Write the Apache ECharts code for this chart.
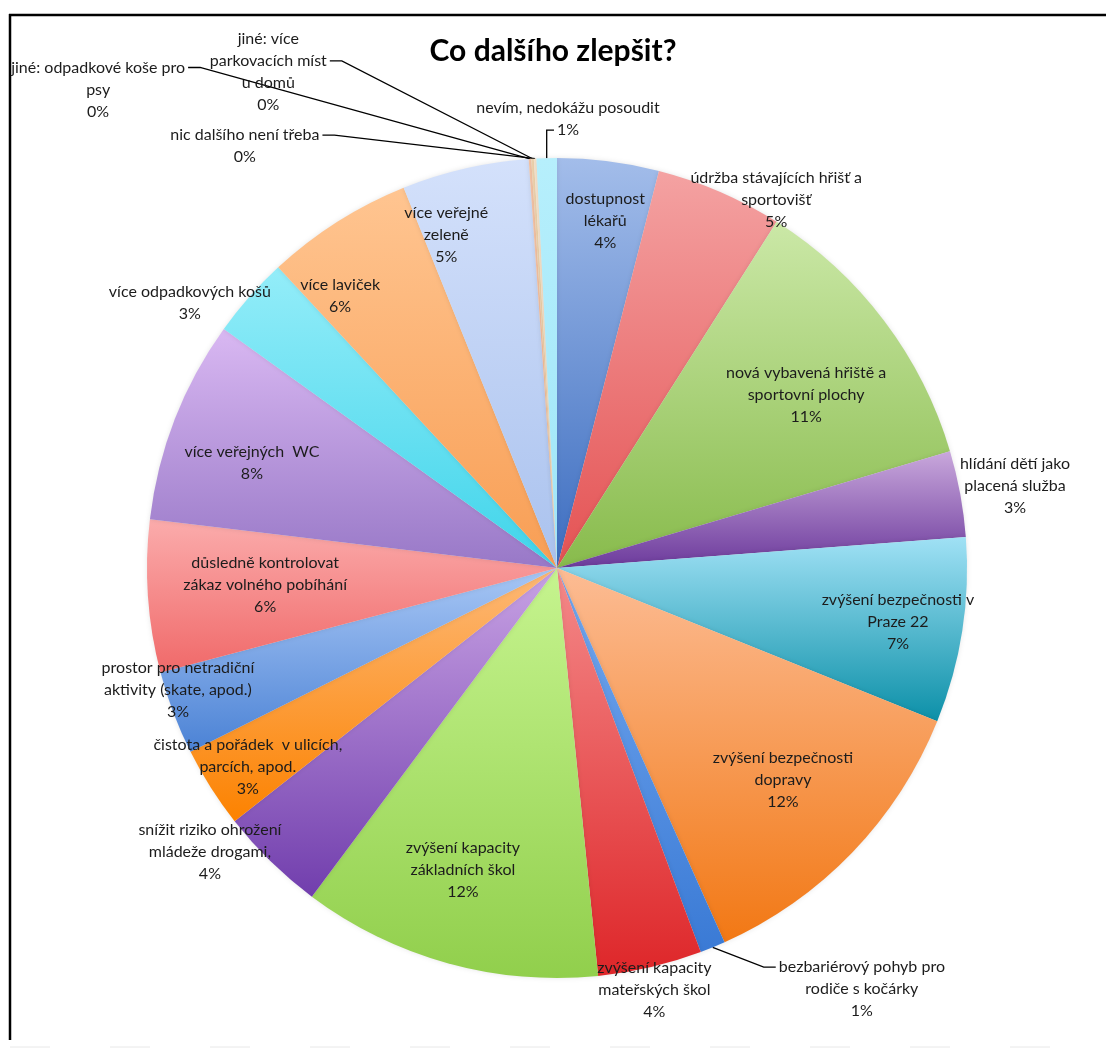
<!DOCTYPE html>
<html><head><meta charset="utf-8">
<script src="https://cdn.jsdelivr.net/npm/echarts@6/dist/echarts.min.js"></script>
<style>html,body{margin:0;padding:0;background:#fff}#c{width:1106px;height:1062px}</style>
</head><body><div id="c"></div>
<script>
// ---------- data ----------
const chartTitle = 'Co dalšího zlepšit?';
const categories = [
  'dostupnost\nlékařů',
  'údržba stávajících hřišť a\nsportovišť',
  'nová vybavená hřiště a\nsportovní plochy',
  'hlídání dětí jako\nplacená služba',
  'zvýšení bezpečnosti v\nPraze 22',
  'zvýšení bezpečnosti\ndopravy',
  'bezbariérový pohyb pro\nrodiče s kočárky',
  'zvýšení kapacity\nmateřských škol',
  'zvýšení kapacity\nzákladních škol',
  'snížit riziko ohrožení\nmládeže drogami,',
  'čistota a pořádek  v ulicích,\nparcích, apod.',
  'prostor pro netradiční\naktivity (skate, apod.)',
  'důsledně kontrolovat\nzákaz volného pobíhání',
  'více veřejných  WC',
  'více odpadkových košů',
  'více laviček',
  'více veřejné\nzeleně',
  'jiné: odpadkové koše pro\npsy',
  'jiné: více\nparkovacích míst\nu domů',
  'nic dalšího není třeba',
  'nevím, nedokážu posoudit'
];
const shares = [4.0, 5.0, 11.4, 3.4, 7.3, 12.2, 1.0, 4.1, 11.8, 4.2, 3.2, 3.3, 6.0, 8.0, 3.2, 5.8, 5.0, 0.1, 0.1, 0.1, 0.8];

// ---------- style / layout ----------
const CX = 557, CY = 568, R = 410, LH = 22;
const gradients = [
  ['#a3bdea', '#3c6dc0'],
  ['#f4a2a2', '#e45253'],
  ['#cbe8a7', '#88bb4c'],
  ['#c9a8dc', '#6c3a9c'],
  ['#a0e1f5', '#0c90a8'],
  ['#fcbc94', '#f27814'],
  ['#74a8ef', '#3a7ad5'],
  ['#f48a8a', '#de2629'],
  ['#c6f48f', '#91cf4c'],
  ['#c8a2e4', '#713ead'],
  ['#fdb977', '#fc8200'],
  ['#a8c7f5', '#4b82d5'],
  ['#fbacac', '#f06969'],
  ['#d9b8f2', '#9878c7'],
  ['#94edf9', '#3fd4ea'],
  ['#ffc591', '#f89e54'],
  ['#d4e1fb', '#aac2ee'],
  ['#f5c4a6', '#f2b690'],
  ['#f0d5b0', '#e9c897'],
  ['#f7e4cc', '#f0d7b8'],
  ['#b6effc', '#9fe5f8']
];
// label anchor: [angle clockwise from top (deg), distance as fraction of radius]
const labelPolar = [
  [7.9, 0.856], [30.8, 1.044], [55.2, 0.74], [79.8, 1.135], [99.0, 0.842],
  [133.2, 0.756], [144.1, 1.268], [167.0, 1.056], [197.3, 0.772], [230.7, 1.094],
  [237.2, 0.897], [252.2, 0.971], [266.7, 0.713], [289.0, 0.787], [305.8, 1.104],
  [321.4, 0.848], [341.6, 0.856], [316.2, 1.617], [329.8, 1.40], [323.5, 1.28],
  [1.4, 1.095]
];
// leader lines: which line of the label the guide attaches to and on which side
const leaders = {
  6: {line: 0, side: 'left'},
  17: {line: 0, side: 'right'},
  18: {line: 1, side: 'right'},
  19: {line: 0, side: 'right'},
  20: {line: 1, side: 'vert'}
};

const total = shares.reduce((a, b) => a + b, 0);
const midAngles = [];
let acc = 0;
shares.forEach(v => { midAngles.push((acc + v / 2) / total * 360); acc += v; });
const polar = (deg, r) => {
  const a = deg * Math.PI / 180;
  return [CX + r * Math.sin(a), CY - r * Math.cos(a)];
};

const seriesData = categories.map((name, i) => {
  const hasLeader = leaders[i] !== undefined;
  return {
    name: name,
    value: shares[i],
    itemStyle: {
      color: new echarts.graphic.LinearGradient(0, 0, 0, 1, [
        {offset: 0, color: gradients[i][0]},
        {offset: 1, color: gradients[i][1]}
      ])
    },
    label: {position: hasLeader ? 'outside' : 'inside'},
    labelLine: {show: hasLeader}
  };
});

const chart = echarts.init(document.getElementById('c'), null, {renderer: 'canvas'});
chart.setOption({
  animation: false,
  backgroundColor: '#ffffff',
  title: {
    text: chartTitle,
    left: 'center',
    top: 31,
    textStyle: {fontSize: 30, fontWeight: 'bold', color: '#000', fontFamily: 'Lato'}
  },
  graphic: [
    {type: 'line', shape: {x1: 9, y1: 15, x2: 1106, y2: 15}, style: {stroke: '#000', lineWidth: 2.5}},
    {type: 'line', shape: {x1: 10, y1: 14, x2: 10, y2: 1040}, style: {stroke: '#000', lineWidth: 2.5}},
    {type: 'line', shape: {x1: 10, y1: 1047, x2: 1106, y2: 1047}, style: {stroke: '#e8e8e8', lineWidth: 1, lineDash: [40, 60]}}
  ],
  series: [{
    type: 'pie',
    center: [CX, CY],
    radius: R,
    startAngle: 90,
    clockwise: true,
    avoidLabelOverlap: false,
    minShowLabelAngle: 0,
    itemStyle: {borderWidth: 0, shadowBlur: 5, shadowColor: 'rgba(0,0,0,0.10)'},
    emphasis: {disabled: true},
    label: {
      show: true,
      color: '#1c1c1c',
      fontFamily: 'Lato',
      fontSize: 16,
      lineHeight: LH,
      align: 'center',
      formatter: p => p.name + '\n' + Math.round(p.value / total * 100) + '%'
    },
    labelLine: {lineStyle: {color: '#000', width: 1.3}, length: 10, length2: 10},
    labelLayout: function (p) {
      const i = p.dataIndex;
      const pos = polar(labelPolar[i][0], labelPolar[i][1] * R);
      const out = {x: pos[0], y: pos[1], align: 'center', verticalAlign: 'middle'};
      const ld = leaders[i];
      if (ld) {
        const w = p.labelRect.width, h = p.labelRect.height;
        const top = pos[1] - h / 2;
        const edge = polar(midAngles[i], R);
        const yLine = top + LH * (ld.line + 0.5);
        let end, elbow;
        if (ld.side === 'right') {
          end = [pos[0] + w / 2 + 3, yLine];
          elbow = [end[0] + 12, yLine];
        } else if (ld.side === 'left') {
          end = [pos[0] - w / 2 - 3, yLine];
          elbow = [end[0] - 12, yLine];
        } else {
          end = [pos[0] - 14, yLine];
          elbow = [edge[0], yLine];
        }
        out.labelLinePoints = [edge, elbow, end];
      }
      return out;
    },
    data: seriesData
  }]
});
</script>
</body></html>
